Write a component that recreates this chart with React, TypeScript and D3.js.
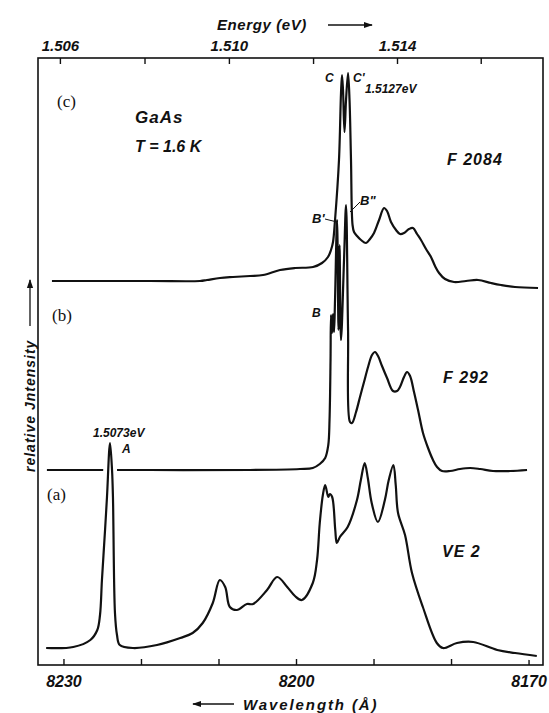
import * as d3 from "d3";

const W = 549;
const H = 713;

// axis ticks
const waveTicks = [8230, 8220, 8210, 8200, 8190, 8180, 8170];
const waveLabels = [8230, 8200, 8170];
const energyTicks = [1.506, 1.508, 1.51, 1.512, 1.514, 1.516];
const energyLabels = [1.506, 1.51, 1.514];

// (a) VE 2 : wavelength (Å) / relative intensity (arb.)
const ve2Lambda = [8232.3, 8228.8, 8226.6, 8225.7, 8225.35, 8225.1, 8224.7, 8224.45, 8224.06, 8223.8, 8223.68, 8223.42, 8223.16, 8222.8, 8221.1, 8218.0, 8215.0, 8213.4, 8212.1, 8210.8, 8209.9, 8209.2, 8208.6, 8207.7, 8206.4, 8205.6, 8203.8, 8202.5, 8201.2, 8200.2, 8199.3, 8197.9, 8197.35, 8197.0, 8196.6, 8196.3, 8195.9, 8195.7, 8195.4, 8195.0, 8194.8, 8194.4, 8193.4, 8192.2, 8191.7, 8191.2, 8190.8, 8190.3, 8189.5, 8188.6, 8188.1, 8187.5, 8187.2, 8186.9, 8186.0, 8185.1, 8183.7, 8181.9, 8181.1, 8179.3, 8177.2, 8174.1, 8171.8, 8169.0];
const ve2Int = [2, 3, 10, 20, 35, 70, 120, 153, 207, 180, 153, 37, 15, 5, 2, 5, 12, 17, 27, 47, 70, 63, 43, 40, 46, 46, 60, 73, 63, 54, 50, 67, 90, 127, 155, 165, 153, 156, 153, 120, 107, 113, 123, 150, 170, 187, 172, 147, 128, 150, 170, 185, 165, 137, 115, 77, 43, 7, 2, 7, 8, 0, -3, -6];

// (b) F 292
const f292Lambda = [8232.2, 8218.9, 8206.0, 8199.55, 8197.9, 8197.0, 8196.3, 8195.9, 8195.74, 8195.61, 8195.55, 8195.42, 8195.29, 8195.16, 8195.03, 8194.77, 8194.58, 8194.45, 8194.26, 8193.87, 8193.61, 8193.35, 8193.1, 8192.84, 8192.32, 8191.81, 8191.29, 8190.77, 8190.26, 8189.87, 8189.48, 8188.97, 8188.32, 8187.55, 8187.03, 8186.65, 8186.13, 8185.74, 8185.35, 8184.84, 8184.32, 8183.68, 8183.03, 8182.39, 8181.87, 8181.23, 8180.19, 8178.9, 8177.6, 8176.3, 8174.65, 8172.45, 8170.26];
const f292Int = [0, 0, 0, 1, 2, 6, 12, 25, 50, 110, 155, 137, 156, 138, 170, 250, 140, 225, 130, 210, 265, 140, 48, 47, 58, 73, 88, 103, 115, 118, 114, 104, 92, 79, 79, 83, 93, 98, 94, 78, 60, 37, 22, 10, 3, -1, -1, 1, 2, 1, -1, -1, 0];

// (c) F 2084
const f2084Lambda = [8231.55, 8218.9, 8212.45, 8211.55, 8209.87, 8208.19, 8206.0, 8204.32, 8202.13, 8200.19, 8197.87, 8196.71, 8195.94, 8195.55, 8195.29, 8195.03, 8194.52, 8194.26, 8194.13, 8194.0, 8193.81, 8193.61, 8193.35, 8193.16, 8192.97, 8192.77, 8192.58, 8192.19, 8191.68, 8191.03, 8190.52, 8190.0, 8189.35, 8188.71, 8188.32, 8187.81, 8187.16, 8186.65, 8186.13, 8185.48, 8184.97, 8184.45, 8183.94, 8183.29, 8182.65, 8182.13, 8181.61, 8180.84, 8179.68, 8178.13, 8176.58, 8174.9, 8173.61, 8171.81, 8168.84];
const f2084Int = [0, 0, 0, 1, 3, 4, 5, 6, 11, 13, 14, 18, 24, 31, 39, 61, 121, 188, 206, 191, 149, 181, 208, 181, 121, 56, 49, 45, 41, 38, 42, 48, 61, 73, 70, 59, 51, 47, 48, 52, 53, 47, 41, 32, 24, 15, 8, 2, -1, 0, 1, -2, -4, -6, -7];

// vertical offset of each trace (same arb. units)
const traceOffsets = [15, 195, 384];

const font = "'Liberation Sans', Arial, sans-serif";

export default function App() {
  const x = d3.scaleLinear().domain([8233.35, 8168.2]).range([38, 543]);
  const y = d3.scaleLinear().domain([0, 607]).range([665, 58]);
  const top = y(607);
  const bottom = y(0);
  const left = x(8233.35);
  const right = x(8168.2);

  // energy (eV) -> air wavelength (Å)
  const eToX = (e: number) => x(12398.42 / e / 1.00027);

  const makeLine = (lam: number[], val: number[], off: number) =>
    d3.line<number>()
      .x((_, i) => x(lam[i]))
      .y((d) => y(d + off))
      .curve(d3.curveCatmullRom.alpha(0.5))(val) || "";

  const pathA = makeLine(ve2Lambda, ve2Int, traceOffsets[0]);
  const pathB = makeLine(f292Lambda, f292Int, traceOffsets[1]);
  const pathC = makeLine(f2084Lambda, f2084Int, traceOffsets[2]);

  const lab = {fontFamily: font, fontWeight: 700, fontStyle: "italic" as const};

  return (
    <svg width={W} height={H} style={{position: "absolute", left: 0, top: 0, background: "#fff"}}>
      <defs>
        <marker id="ah" viewBox="0 0 10 10" refX="9" refY="5" markerWidth="7" markerHeight="7" orient="auto">
          <path d="M0,1.5 L10,5 L0,8.5 Z" fill="#111" />
        </marker>
      </defs>

      {/* frame */}
      <rect x={left} y={top} width={right - left} height={bottom - top} fill="none" stroke="#111" strokeWidth={1.6} />

      {/* bottom ticks */}
      {waveTicks.map((t) => (
        <line key={"wt" + t} x1={x(t)} x2={x(t)} y1={bottom} y2={bottom - 6} stroke="#111" strokeWidth={1.4} />
      ))}
      {waveLabels.map((t) => (
        <text key={"wl" + t} x={x(t)} y={687} textAnchor="middle" fontSize={16} {...lab} fill="#111">{t}</text>
      ))}

      {/* top ticks */}
      {energyTicks.map((e) => (
        <line key={"et" + e} x1={eToX(e)} x2={eToX(e)} y1={top} y2={top + 6} stroke="#111" strokeWidth={1.4} />
      ))}
      {energyLabels.map((e) => (
        <text key={"el" + e} x={eToX(e)} y={51} textAnchor="middle" fontSize={15} {...lab} fill="#111">{e.toFixed(3)}</text>
      ))}

      {/* axis titles */}
      <text x={217} y={30} fontSize={15} {...lab} letterSpacing={0.6} fill="#111">Energy (eV)</text>
      <line x1={328} x2={372} y1={25} y2={25} stroke="#111" strokeWidth={1.3} markerEnd="url(#ah)" />

      <text x={243} y={710} fontSize={15} {...lab} letterSpacing={1.9} fill="#111">Wavelength (Å)</text>
      <line x1={234} x2={193} y1={704} y2={704} stroke="#111" strokeWidth={1.3} markerEnd="url(#ah)" />

      <text transform="translate(35,472) rotate(-90)" fontSize={14} {...lab} letterSpacing={1} fill="#111">relative Jntensity</text>
      <line x1={30} x2={30} y1={326} y2={280} stroke="#111" strokeWidth={1.3} markerEnd="url(#ah)" />

      {/* traces */}
      <path d={pathC} fill="none" stroke="#111" strokeWidth={2.2} strokeLinejoin="round" />
      <path d={pathB} fill="none" stroke="#111" strokeWidth={2.2} strokeLinejoin="round" />
      <path d={pathA} fill="none" stroke="#fff" strokeWidth={10} strokeLinejoin="round" />
      <path d={pathA} fill="none" stroke="#111" strokeWidth={2.2} strokeLinejoin="round" />

      {/* panel labels */}
      <text x={57} y={107} fontSize={17} fontFamily="'Liberation Serif', 'DejaVu Serif', serif" fill="#111">(c)</text>
      <text x={52} y={321} fontSize={17} fontFamily="'Liberation Serif', 'DejaVu Serif', serif" fill="#111">(b)</text>
      <text x={47} y={500} fontSize={17} fontFamily="'Liberation Serif', 'DejaVu Serif', serif" fill="#111">(a)</text>

      <text x={135} y={123} fontSize={17} {...lab} letterSpacing={1} fill="#111">GaAs</text>
      <text x={135} y={152} fontSize={16} {...lab} fill="#111">T = 1.6 K</text>

      <text x={447} y={165} fontSize={16} {...lab} letterSpacing={1} fill="#111">F 2084</text>
      <text x={443} y={383} fontSize={16} {...lab} letterSpacing={1} fill="#111">F 292</text>
      <text x={442} y={557} fontSize={16} {...lab} letterSpacing={1} fill="#111">VE 2</text>

      {/* peak annotations */}
      <text x={325} y={82} fontSize={12} {...lab} fill="#111">C</text>
      <text x={353} y={82} fontSize={12} {...lab} fill="#111">C'</text>
      <text x={365} y={93} fontSize={12} {...lab} fill="#111">1.5127eV</text>
      <text x={312} y={223} fontSize={13} {...lab} fill="#111">B'</text>
      <line x1={325} y1={219} x2={337} y2={222} stroke="#111" strokeWidth={1} />
      <text x={360} y={205} fontSize={13} {...lab} fill="#111">B"</text>
      <line x1={360} y1={202} x2={350} y2={212} stroke="#111" strokeWidth={1} />
      <text x={312} y={317} fontSize={12} {...lab} fill="#111">B</text>
      <text x={93} y={437} fontSize={12} {...lab} fill="#111">1.5073eV</text>
      <text x={122} y={453} fontSize={12} {...lab} fill="#111">A</text>
    </svg>
  );
}
